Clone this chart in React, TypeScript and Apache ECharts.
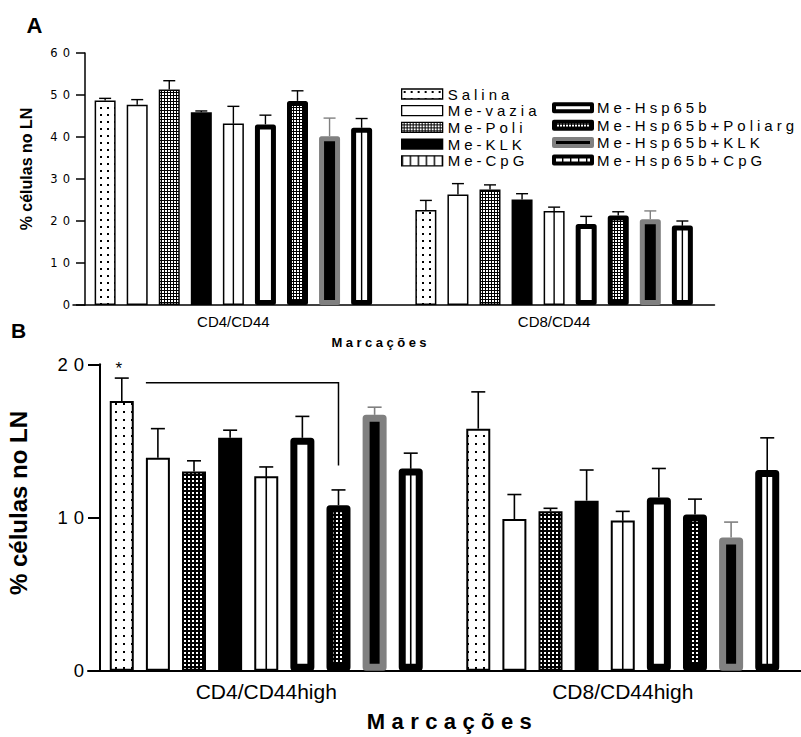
import React, { useEffect, useRef } from 'react';
import * as echarts from 'echarts';

// ---------------- data ----------------
const groups = [
  'Salina',
  'Me-vazia',
  'Me-Poli',
  'Me-KLK',
  'Me-CpG',
  'Me-Hsp65b',
  'Me-Hsp65b+Poliarg',
  'Me-Hsp65b+KLK',
  'Me-Hsp65b+CpG',
];
const categoriesA = ['CD4/CD44', 'CD8/CD44'];
const categoriesB = ['CD4/CD44high', 'CD8/CD44high'];

// Panel A (% células no LN), one value per group
const meanA_CD4 = [48.7, 47.7, 51.3, 45.9, 43.2, 43.0, 48.6, 40.2, 42.2];
const semA_CD4 = [0.5, 1.2, 2.1, 0.3, 4.1, 2.2, 2.4, 4.3, 2.2];
const meanA_CD8 = [22.6, 26.3, 27.5, 25.1, 22.4, 19.3, 21.3, 20.4, 18.9];
const semA_CD8 = [2.3, 2.6, 1.1, 1.4, 0.9, 1.8, 0.9, 2.0, 1.1];

// Panel B
const meanB_CD4 = [17.6, 13.9, 13.0, 15.2, 12.7, 15.2, 10.8, 16.7, 13.2];
const semB_CD4 = [1.5, 1.9, 0.7, 0.5, 0.6, 1.4, 1.0, 0.5, 1.0];
const meanB_CD8 = [15.8, 9.9, 10.4, 11.1, 9.8, 11.3, 10.2, 8.7, 13.1];
const semB_CD8 = [2.4, 1.6, 0.2, 2.0, 0.6, 1.9, 1.0, 1.0, 2.1];

const yMaxA = 60;
const yStepA = 10;
const yMaxB = 20;
const yStepB = 10;

// groups whose bars carry a vertical inner line (CpG)
const lineGroups = [4, 8];

// significance annotation in panel B (CD4/CD44high): bracket from bar 1 to bar 6
const bracketFromBar = 1;
const bracketToBar = 6;
const bracketLevel = 18.8;
const bracketDrop = 13.4;
const starBar = 0;
const starValue = 19.75;

// ---------------- helpers ----------------
function makePattern(w: number, h: number, bg: string, fg: string, rects: number[][]) {
  const c = document.createElement('canvas');
  c.width = w;
  c.height = h;
  const ctx = c.getContext('2d')!;
  ctx.fillStyle = bg;
  ctx.fillRect(0, 0, w, h);
  ctx.fillStyle = fg;
  rects.forEach((r) => ctx.fillRect(r[0], r[1], r[2], r[3]));
  return { image: c, repeat: 'repeat', imageWidth: w, imageHeight: h } as any;
}

const GRAY = '#808080';

export default function App() {
  const ref = useRef<HTMLDivElement>(null);

  useEffect(() => {
    if (!ref.current) return;
    const chart = echarts.init(ref.current, null, { renderer: 'svg' });

    const dotsA = makePattern(7, 7, '#fff', '#000', [[2, 2, 2, 2]]);
    const dotsB = makePattern(8, 8, '#fff', '#000', [[3, 3, 2, 2]]);
    const denseA = makePattern(3, 3, '#000', '#fff', [[0, 0, 2, 2]]);
    const denseB = makePattern(4, 4, '#000', '#fff', [[0, 0, 2, 2]]);
    const stripes = makePattern(8, 4, '#fff', '#000', [[0, 0, 1.4, 4]]);

    const panels = [
      {
        key: 'A',
        grid: 0,
        barWidth: 21,
        gap: 0.5267,
        thin: 1.5,
        thick: 5,
        cap: 12,
        errW: 1.4,
        dots: dotsA,
        dense: denseA,
        means: [meanA_CD4, meanA_CD8],
        sems: [semA_CD4, semA_CD8],
      },
      {
        key: 'B',
        grid: 1,
        barWidth: 24,
        gap: 0.505,
        thin: 2,
        thick: 7,
        cap: 14,
        errW: 1.6,
        dots: dotsB,
        dense: denseB,
        means: [meanB_CD4, meanB_CD8],
        sems: [semB_CD4, semB_CD8],
      },
    ];

    const styleFor = (gi: number, p: any) => {
      switch (gi) {
        case 0:
          return { color: p.dots, borderColor: '#000', borderWidth: p.thin };
        case 1:
          return { color: '#fff', borderColor: '#000', borderWidth: p.thin };
        case 2:
          return { color: p.dense, borderColor: '#000', borderWidth: p.thin };
        case 3:
          return { color: '#000', borderColor: '#000', borderWidth: p.thin };
        case 4:
          return { color: 'rgba(0,0,0,0)', borderColor: '#000', borderWidth: p.thin };
        case 5:
          return { color: '#fff', borderColor: '#000', borderWidth: p.thick, borderJoin: 'round' };
        case 6:
          return { color: p.dense, borderColor: '#000', borderWidth: p.thick, borderJoin: 'round' };
        case 7:
          return { color: '#000', borderColor: GRAY, borderWidth: p.thick, borderJoin: 'round' };
        default:
          return { color: 'rgba(0,0,0,0)', borderColor: '#000', borderWidth: p.thick, borderJoin: 'round' };
      }
    };

    const series: any[] = [];
    panels.forEach((p) => {
      const spacing = p.barWidth * (1 + p.gap);
      groups.forEach((g, gi) => {
        series.push({
          type: 'bar',
          name: g,
          xAxisIndex: p.grid,
          yAxisIndex: p.grid,
          data: [p.means[0][gi], p.means[1][gi]],
          barWidth: p.barWidth,
          barGap: (p.gap * 100).toFixed(2) + '%',
          itemStyle: styleFor(gi, p),
          emphasis: { disabled: true },
          z: 2,
        });
      });
      // error bars
      const errData: number[][] = [];
      [0, 1].forEach((c) => {
        groups.forEach((_, gi) => errData.push([c, gi, p.means[c][gi], p.sems[c][gi]]));
      });
      series.push({
        type: 'custom',
        name: 'sem-' + p.key,
        xAxisIndex: p.grid,
        yAxisIndex: p.grid,
        z: 1,
        silent: true,
        encode: { x: 0, y: 2 },
        data: errData,
        renderItem: (params: any, api: any) => {
          const c = api.value(0);
          const gi = api.value(1);
          const m = api.value(2);
          const s = api.value(3);
          const base = api.coord([c, m]);
          const top = api.coord([c, m + s]);
          const x = base[0] + (gi - 4) * spacing;
          const col = gi === 7 ? GRAY : '#000';
          return {
            type: 'group',
            children: [
              { type: 'line', shape: { x1: x, y1: base[1], x2: x, y2: top[1] }, style: { stroke: col, lineWidth: p.errW } },
              {
                type: 'line',
                shape: { x1: x - p.cap / 2, y1: top[1], x2: x + p.cap / 2, y2: top[1] },
                style: { stroke: col, lineWidth: p.errW },
              },
            ],
          };
        },
      });
      if (p.key === 'B') {
        series.push({
          type: 'custom',
          name: 'annot-B',
          xAxisIndex: 1,
          yAxisIndex: 1,
          z: 4,
          silent: true,
          encode: { x: 0, y: 1 },
          data: [[0, bracketLevel, bracketDrop, starValue]],
          renderItem: (params: any, api: any) => {
            const top = api.coord([api.value(0), api.value(1)]);
            const bot = api.coord([api.value(0), api.value(2)]);
            const star = api.coord([api.value(0), api.value(3)]);
            const xL = top[0] + (bracketFromBar - 4) * spacing - p.barWidth / 2;
            const xR = top[0] + (bracketToBar - 4) * spacing;
            return {
              type: 'group',
              children: [
                {
                  type: 'polyline',
                  shape: { points: [[xL, top[1]], [xR, top[1]], [xR, bot[1]]] },
                  style: { stroke: '#000', lineWidth: 1.5, fill: 'none' },
                },
                {
                  type: 'text',
                  x: star[0] + (starBar - 4) * spacing - 3,
                  y: star[1],
                  style: {
                    text: '*',
                    fontSize: 17,
                    fontFamily: 'Liberation Sans',
                    fill: '#000',
                    align: 'center',
                    verticalAlign: 'middle',
                  },
                },
              ],
            };
          },
        });
      }
    });

    const legendLeft = groups.slice(0, 5).map((name, i) => ({
      name,
      itemStyle:
        i === 4
          ? { color: stripes, borderColor: '#000', borderWidth: 1.3 }
          : { borderColor: '#000', borderWidth: 1.3 },
    }));
    const legendRight = groups.slice(5).map((name, i) => ({
      name,
      itemStyle: {
        ...(i === 3 ? { color: stripes } : {}),
        borderColor: i === 2 ? GRAY : '#000',
        borderWidth: 4,
      },
    }));

    const axisTxt = { color: '#000' };

    const baseGraphic: any[] = [
      {
        type: 'text',
        id: 'tA',
        x: 34.5,
        y: 25,
        style: {
          text: 'A',
          fontSize: 22,
          fontWeight: 'bold',
          fontFamily: 'Liberation Sans',
          fill: '#000',
          align: 'center',
          verticalAlign: 'middle',
        },
      },
      {
        type: 'text',
        id: 'tB',
        x: 18.5,
        y: 330.5,
        style: {
          text: 'B',
          fontSize: 21,
          fontWeight: 'bold',
          fontFamily: 'Liberation Sans',
          fill: '#000',
          align: 'center',
          verticalAlign: 'middle',
        },
      },
      {
        type: 'text',
        id: 'yA',
        x: 26,
        y: 169,
        rotation: Math.PI / 2,
        style: {
          text: '% células no LN',
          fontSize: 16,
          fontWeight: 'bold',
          fontFamily: 'Liberation Sans',
          fill: '#000',
          align: 'center',
          verticalAlign: 'middle',
        },
      },
      {
        type: 'text',
        id: 'yB',
        x: 18,
        y: 503,
        rotation: Math.PI / 2,
        style: {
          text: '% células no LN',
          fontSize: 24,
          fontWeight: 'bold',
          fontFamily: 'Liberation Sans',
          fill: '#000',
          align: 'center',
          verticalAlign: 'middle',
        },
      },
    ];

    const option: any = {
      animation: false,
      backgroundColor: '#fff',
      grid: [
        { left: 73, top: 53, width: 641.5, height: 252 },
        { left: 88, top: 364.3, width: 725, height: 306.4 },
      ],
      legend: [
        {
          data: legendLeft,
          orient: 'vertical',
          left: 401,
          top: 86.5,
          padding: 0,
          icon: 'rect',
          itemWidth: 41,
          itemHeight: 10,
          itemGap: 1.7,
          selectedMode: false,
          textStyle: { ...axisTxt, fontSize: 15, fontFamily: 'Liberation Sans', lineHeight: 13 },
        },
        {
          data: legendRight,
          orient: 'vertical',
          left: 552,
          top: 100.3,
          padding: 0,
          icon: 'rect',
          itemWidth: 38,
          itemHeight: 7,
          itemGap: 2.4,
          selectedMode: false,
          textStyle: { ...axisTxt, fontSize: 15, fontFamily: 'Liberation Sans', lineHeight: 14 },
        },
      ],
      xAxis: [
        {
          type: 'category',
          gridIndex: 0,
          data: categoriesA,
          axisTick: { show: false },
          axisLine: { show: true, lineStyle: { color: '#000', width: 1.5 } },
          axisLabel: { ...axisTxt, fontSize: 15, fontFamily: 'Liberation Sans', margin: 9 },
          name: 'Marcações',
          nameLocation: 'middle',
          nameGap: 31,
          nameTextStyle: {
            ...axisTxt,
            fontSize: 13,
            fontWeight: 'bold',
            fontFamily: 'Liberation Sans',
            padding: [0, 26, 0, 0],
          },
        },
        {
          type: 'category',
          gridIndex: 1,
          data: categoriesB,
          axisTick: { show: false },
          axisLine: { show: true, lineStyle: { color: '#000', width: 2 } },
          axisLabel: { ...axisTxt, fontSize: 21, fontFamily: 'Liberation Sans', margin: 10 },
          name: 'Marcações',
          nameLocation: 'middle',
          nameGap: 40,
          nameTextStyle: {
            ...axisTxt,
            fontSize: 22,
            fontWeight: 'bold',
            fontFamily: 'Liberation Sans',
            padding: [0, 0, 0, 16],
          },
        },
      ],
      yAxis: [
        {
          type: 'value',
          gridIndex: 0,
          min: 0,
          max: yMaxA,
          interval: yStepA,
          offset: -12,
          axisLine: { show: true, lineStyle: { color: '#000', width: 1.5 } },
          axisTick: { show: true, length: 9, lineStyle: { color: '#000', width: 1.5 } },
          axisLabel: { ...axisTxt, fontSize: 11.5, fontFamily: 'DejaVu Sans', margin: 10 },
          splitLine: { show: false },
        },
        {
          type: 'value',
          gridIndex: 1,
          min: 0,
          max: yMaxB,
          interval: yStepB,
          offset: -12,
          axisLine: { show: true, lineStyle: { color: '#000', width: 2 } },
          axisTick: { show: true, length: 12, lineStyle: { color: '#000', width: 2 } },
          axisLabel: { ...axisTxt, fontSize: 18.5, fontFamily: 'Liberation Sans', margin: 10 },
          splitLine: { show: false },
        },
      ],
      graphic: baseGraphic,
      series,
    };

    // the original figure uses widely tracked lettering for some texts
    const applySpacing = () => {
      const svg = ref.current && ref.current.querySelector('svg');
      if (!svg) return;
      svg.querySelectorAll('text').forEach((t) => {
        const s = (t.textContent || '').trim();
        const fs = parseFloat(getComputedStyle(t).fontSize) || 12;
        let ls = 0;
        if (groups.indexOf(s) >= 0) ls = 4;
        else if (s === 'Marcações') ls = fs > 18 ? 6.4 : 3.5;
        else if (/^\d+$/.test(s)) ls = fs > 15 ? 6 : 5;
        if (ls) t.setAttribute('letter-spacing', String(ls));
      });
    };
    chart.on('finished', applySpacing);
    chart.setOption(option);

    // inner vertical line of the CpG bars, placed through the grids' own scales
    const innerLines: any[] = [];
    panels.forEach((p) => {
      const spacing = p.barWidth * (1 + p.gap);
      [0, 1].forEach((c) => {
        lineGroups.forEach((gi) => {
          const top = chart.convertToPixel({ gridIndex: p.grid } as any, [c, p.means[c][gi]]) as any;
          const bot = chart.convertToPixel({ gridIndex: p.grid } as any, [c, 0]) as any;
          if (!top || !bot) return;
          const x = top[0] + (gi - 4) * spacing;
          innerLines.push({
            type: 'rect',
            id: 'cpg-' + p.key + '-' + c + '-' + gi,
            z: 100,
            silent: true,
            shape: { x: x - p.errW / 2, y: top[1], width: p.errW, height: bot[1] - top[1] },
            style: { fill: '#000', stroke: null },
          });
        });
      });
    });
    chart.setOption({ graphic: baseGraphic.concat(innerLines) });
    applySpacing();
    return () => chart.dispose();
  }, []);

  return (
    <div
      ref={ref}
      style={{ position: 'fixed', left: 0, top: 0, width: 801, height: 737, background: '#fff' }}
    />
  );
}
